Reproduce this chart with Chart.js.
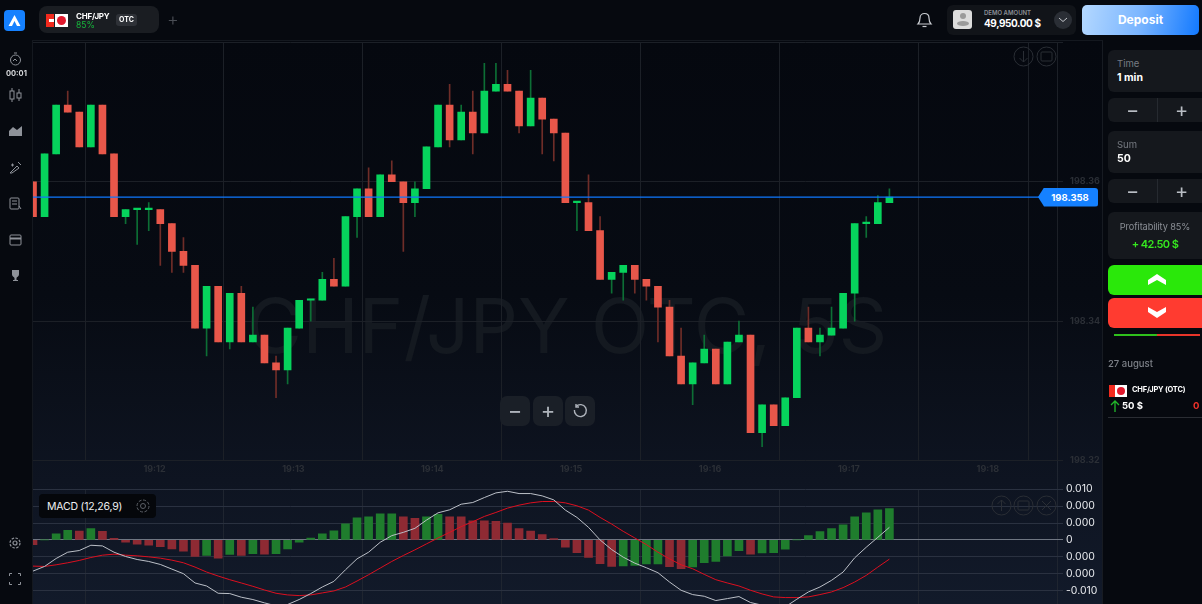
<!DOCTYPE html>
<html>
<head>
<meta charset="utf-8">
<title>CHF/JPY OTC</title>
<script src="https://cdn.jsdelivr.net/npm/chart.js@4/dist/chart.umd.min.js"></script>
<style>
html, body { margin: 0; width: 1202px; height: 604px; overflow: hidden; background: #06090f; font-family: Inter, "Noto Sans", sans-serif; color: #fff; }
.abs { position: absolute; white-space: nowrap; }
#plot { position: absolute; left: 32px; top: 40px; width: 1071px; height: 564px; background: linear-gradient(180deg, #05080f 0%, #070b13 45%, #0e1421 78%, #121a2a 100%); border-left: 1px solid #14181f; border-top: 1px solid #14181f; border-right: 1px solid #171b22; box-sizing: border-box; }
#mark { position: absolute; left: 0; width: 1134px; text-align: center; top: 280px; font-size: 76px; line-height: 90px; color: #141920; }
canvas { position: absolute; }
#mainChart { left: 33px; top: 30px; }
#macdChart { left: 33px; top: 480px; }
.card { position: absolute; left: 1108px; width: 94px; background: #15181d; border-radius: 6px 0 0 6px; }
.step { position: absolute; left: 1108px; width: 94px; height: 24px; background: #15181d; border-radius: 6px 0 0 6px; }
.step i { position: absolute; top: 0; left: 49px; width: 1px; height: 24px; background: #262a30; }
.step b { position: absolute; top: 1px; line-height: 22px; font-size: 20px; font-weight: 400; color: #b9bdc4; }
.zbtn { position: absolute; top: 396px; width: 30px; height: 30px; background: #1a1f27; border-radius: 7px; text-align: center; line-height: 28px; font-size: 22px; color: #aeb3bb; }
.rnd { position: absolute; width: 21px; height: 21px; }
#tag { position: absolute; left: 1038px; width: 60px; height: 19px; background: #1581ff; color: #fff; font-size: 9.5px; font-weight: 700; line-height: 19px; text-align: center; padding-left: 4px; box-sizing: border-box; clip-path: polygon(6px 0, 100% 0, 100% 100%, 6px 100%, 0 50%); border-radius: 3px; }
</style>
</head>
<body>
<div id="plot"></div>
<div id="mark" class="abs">CHF/JPY OTC, 5S</div>
<canvas id="mainChart" width="1069" height="450"></canvas>
<canvas id="macdChart" width="1069" height="134"></canvas>
<div id="tag"></div>

<!-- top bar -->
<svg class="abs" style="left:4px;top:10px" width="21" height="21"><rect width="21" height="21" rx="4" fill="#1581ff"/><path d="M10.5 5 L16.5 16 H13 L10.5 11 L8 16 H4.5 Z" fill="#fff"/></svg>
<div class="abs" style="left:39px;top:6px;width:120px;height:27px;background:#1a1d22;border-radius:8px"></div>
<div class="abs" style="left:46px;top:14px;width:8px;height:13px;background:#f22a1e"></div>
<div class="abs" style="left:49px;top:19px;width:5px;height:3px;background:#fff"></div>
<div class="abs" style="left:55px;top:14px;width:13px;height:13px;background:#fff"></div>
<div class="abs" style="left:57px;top:16px;width:9px;height:9px;background:#e0192d;border-radius:50%"></div>
<div class="abs" style="left:76px;top:11px;font-size:8px;font-weight:700;letter-spacing:-.2px">CHF/JPY</div>
<div class="abs" style="left:76px;top:20px;font-size:8.5px;color:#17b53c">85%</div>
<div class="abs" style="left:116px;top:14px;width:21px;height:12px;background:#2e3137;border-radius:3px;text-align:center;font-size:7px;font-weight:700;line-height:12px">OTC</div>
<div class="abs" style="left:167px;top:9px;font-size:18px;color:#4a4e55;font-weight:300">+</div>
<svg class="abs" style="left:916px;top:11px" width="17" height="18" fill="none" stroke="#c9ccd1" stroke-width="1.2"><path d="M2 13 C4 11 4 9 4 7 C4 1 13 1 13 7 C13 9 13 11 15 13 Z"/><path d="M6.5 15.5 H10.5"/></svg>
<div class="abs" style="left:947px;top:5px;width:129px;height:30px;background:#111419;border-radius:6px"></div>
<div class="abs" style="left:953px;top:10px;width:19px;height:19px;background:#dcdcdc;border-radius:3px"></div>
<div class="abs" style="left:960px;top:13px;width:6px;height:6px;background:#9a9a9a;border-radius:50%"></div>
<div class="abs" style="left:957px;top:21px;width:12px;height:5px;background:#9a9a9a;border-radius:50%"></div>
<div class="abs" style="left:984px;top:9px;font-size:6px;font-weight:600;color:#8b8f96">DEMO AMOUNT</div>
<div class="abs" style="left:984px;top:17px;font-size:10px;font-weight:700;letter-spacing:-.4px">49,950.00 $</div>
<div class="abs" style="left:1054px;top:11px;width:18px;height:18px;background:#2a2e35;border-radius:50%"></div>
<svg class="abs" style="left:1058px;top:17px" width="10" height="6" fill="none" stroke="#c2c5ca"><path d="M1 1 L5 4.5 L9 1"/></svg>
<div class="abs" style="left:1082px;top:5px;width:117px;height:30px;border-radius:5px;background:linear-gradient(100deg,#b4d8ff 0%,#7ab5ff 50%,#1279ff 100%);text-align:center;line-height:30px;font-size:12px;font-weight:700">Deposit</div>

<!-- left icons -->
<svg class="abs" style="left:9px;top:52px" width="13" height="14" fill="none" stroke="#8e9299"><circle cx="6.5" cy="8" r="5"/><path d="M5 1 H8 M4 9 L6 7 L8 9"/></svg>
<div class="abs" style="left:6px;top:69px;font-size:7.5px;font-weight:700;color:#d8dadd">00:01</div>
<svg class="abs" style="left:9px;top:88px" width="13" height="14" fill="none" stroke="#8e9299"><rect x="1" y="3" width="4" height="8"/><rect x="8" y="5" width="4" height="5"/><path d="M3 0 V3 M3 11 V14 M10 1 V5 M10 10 V13"/></svg>
<svg class="abs" style="left:9px;top:125px" width="14" height="12" fill="#8e9299"><path d="M0 11 V6 L4 2 L8 5 L13 1 V11 Z"/></svg>
<svg class="abs" style="left:9px;top:161px" width="13" height="13" fill="none" stroke="#8e9299"><path d="M1 12 L8 5 L10 7 L3 12 Z M9 1 L12 4 M2 4 H5 M3.5 2.5 V5.5"/></svg>
<svg class="abs" style="left:9px;top:197px" width="13" height="13" fill="none" stroke="#8e9299"><rect x="1" y="1" width="9" height="11" rx="1"/><path d="M3 4 H8 M3 7 H8 M10 9 L12 12"/></svg>
<svg class="abs" style="left:9px;top:233px" width="13" height="13" fill="none" stroke="#8e9299"><rect x="1" y="2" width="11" height="10" rx="1"/><path d="M1 5.5 H12" stroke-width="2"/></svg>
<svg class="abs" style="left:9px;top:269px" width="13" height="13" fill="#8e9299"><path d="M3 1 H10 V5 C10 8 7.5 8 7.5 9 V11 H9 V12 H4 V11 H5.5 V9 C5.5 8 3 8 3 5 Z"/></svg>
<svg class="abs" style="left:8px;top:536px" width="14" height="14" fill="none" stroke="#8e9299" stroke-width="1.2"><circle cx="7" cy="7" r="2"/><circle cx="7" cy="7" r="5" stroke-dasharray="2.5 1.4"/></svg>
<svg class="abs" style="left:9px;top:573px" width="12" height="12" fill="none" stroke="#8e9299"><path d="M0.5 3 V0.5 H3 M9 0.5 H11.5 V3 M11.5 9 V11.5 H9 M3 11.5 H0.5 V9"/></svg>

<!-- chart buttons -->
<div class="zbtn" style="left:500px">−</div>
<div class="zbtn" style="left:533px">+</div>
<div class="zbtn" style="left:565px"></div>
<svg class="abs" style="left:572px;top:403px" width="16" height="16" fill="none" stroke="#aeb3bb" stroke-width="1.4"><path d="M4 3.5 A6 6 0 1 1 2.4 7"/><path d="M4 1 V4 H7"/></svg>
<svg class="rnd" style="left:1013px;top:46px" fill="none" stroke="#2a2e35"><circle cx="10.5" cy="10.5" r="9.5"/><path d="M10.5 5 V16 M6.5 12 L10.5 16 L14.5 12"/></svg>
<svg class="rnd" style="left:1036px;top:46px" fill="none" stroke="#2a2e35"><circle cx="10.5" cy="10.5" r="9.5"/><rect x="5" y="6" width="11" height="9" rx="1"/></svg>
<svg class="rnd" style="left:991px;top:495px" fill="none" stroke="#2a2e35"><circle cx="10.5" cy="10.5" r="9.5"/><path d="M10.5 16 V5 M6.5 9 L10.5 5 L14.5 9"/></svg>
<svg class="rnd" style="left:1013px;top:495px" fill="none" stroke="#2a2e35"><circle cx="10.5" cy="10.5" r="9.5"/><rect x="5" y="6" width="11" height="9" rx="1"/></svg>
<svg class="rnd" style="left:1036px;top:495px" fill="none" stroke="#2a2e35"><circle cx="10.5" cy="10.5" r="9.5"/><path d="M6 6 L15 15 M15 6 L6 15"/></svg>
<div class="abs" style="left:1057px;top:461px;width:1px;height:28px;background:#1f2530"></div>
<div class="abs" style="left:39px;top:494px;width:117px;height:24px;background:#05070b;border-radius:4px"></div>
<div class="abs" style="left:47px;top:500px;font-size:10.5px;color:#f0f1f3;letter-spacing:-.2px">MACD (12,26,9)</div>
<svg class="abs" style="left:135px;top:498px" width="16" height="16" fill="none" stroke="#5c6067"><circle cx="8" cy="8" r="2.5"/><circle cx="8" cy="8" r="6" stroke-dasharray="3 1.6"/></svg>

<!-- right panel -->
<div class="card" style="top:50px;height:42px"></div>
<div class="abs" style="left:1117px;top:58px;font-size:9.5px;color:#777b82">Time</div>
<div class="abs" style="left:1117px;top:71px;font-size:10.5px;font-weight:700">1 min</div>
<div class="step" style="top:98px"><i></i><b style="left:18px">−</b><b style="left:67px">+</b></div>
<div class="card" style="top:131px;height:42px"></div>
<div class="abs" style="left:1117px;top:139px;font-size:9.5px;color:#777b82">Sum</div>
<div class="abs" style="left:1117px;top:152px;font-size:10.5px;font-weight:700">50</div>
<div class="step" style="top:179px"><i></i><b style="left:18px">−</b><b style="left:67px">+</b></div>
<div class="card" style="top:212px;height:47px"></div>
<div class="abs" style="left:1108px;width:94px;text-align:center;top:221px;font-size:9.2px;letter-spacing:-.1px;color:#8b8f96">Profitability 85%</div>
<div class="abs" style="left:1108px;width:94px;text-align:center;top:237px;font-size:11px;font-weight:600;letter-spacing:-.6px;color:#36e81f">+ 42.50 $</div>
<div class="card" style="top:265px;height:30px;background:#2ae80a"></div>
<svg class="abs" style="left:1147px;top:274px" width="20" height="12" fill="#fff"><path d="M10 0 L19 6 V11 L10 6 L1 11 V6 Z"/></svg>
<div class="card" style="top:298px;height:30px;background:#ff3b30"></div>
<svg class="abs" style="left:1147px;top:307px" width="20" height="12" fill="#fff"><path d="M10 11 L19 5 V0 L10 5 L1 0 V5 Z"/></svg>
<div class="abs" style="left:1114px;top:334px;width:43px;height:1.5px;background:#2fc01c"></div>
<div class="abs" style="left:1157px;top:334px;width:43px;height:1.5px;background:#e8352a"></div>
<div class="abs" style="left:1108px;top:358px;font-size:9.5px;font-weight:500;color:#7d8188">27 august</div>
<div class="abs" style="left:1109px;top:385px;width:6px;height:12px;background:#f22a1e"></div>
<div class="abs" style="left:1115px;top:385px;width:12px;height:12px;background:#fff"></div>
<div class="abs" style="left:1117px;top:387px;width:8px;height:8px;background:#e0192d;border-radius:50%"></div>
<div class="abs" style="left:1132px;top:385px;font-size:7.5px;font-weight:700;letter-spacing:-.2px">CHF/JPY (OTC)</div>
<svg class="abs" style="left:1110px;top:400px" width="10" height="12" fill="none" stroke="#21b82a" stroke-width="1.3"><path d="M5 12 V1 M1 5 L5 1 L9 5"/></svg>
<div class="abs" style="left:1122px;top:400px;font-size:9.5px;font-weight:700">50 $</div>
<div class="abs" style="left:1193px;top:400px;font-size:9.5px;font-weight:700;color:#f1322a">0 $</div>
<div class="abs" style="left:1108px;top:417px;width:94px;height:1px;background:#2a2d33"></div>

<script>
const opens = [198.360,198.355,198.364,198.371,198.370,198.365,198.371,198.364,198.355,198.356,198.356,198.356,198.354,198.350,198.348,198.339,198.345,198.337,198.344,198.337,198.338,198.334,198.333,198.339,198.343,198.343,198.346,198.345,198.355,198.359,198.355,198.361,198.360,198.357,198.359,198.365,198.371,198.366,198.370,198.367,198.373,198.374,198.373,198.368,198.372,198.369,198.367,198.357,198.357,198.353,198.346,198.347,198.348,198.346,198.345,198.342,198.335,198.331,198.334,198.336,198.331,198.337,198.338,198.324,198.328,198.325,198.329,198.339,198.337,198.338,198.339,198.344,198.354,198.354,198.357];
const closes = [198.355,198.364,198.371,198.370,198.365,198.371,198.364,198.355,198.356,198.356,198.356,198.354,198.350,198.348,198.339,198.345,198.337,198.344,198.337,198.338,198.334,198.333,198.339,198.343,198.343,198.346,198.345,198.355,198.359,198.355,198.361,198.360,198.357,198.359,198.365,198.371,198.366,198.370,198.367,198.373,198.374,198.373,198.368,198.372,198.369,198.367,198.357,198.357,198.353,198.346,198.347,198.348,198.346,198.345,198.342,198.335,198.331,198.334,198.336,198.331,198.337,198.338,198.324,198.328,198.325,198.329,198.339,198.337,198.338,198.339,198.344,198.354,198.354,198.357,198.3578];
const highs = [198.360,198.364,198.371,198.373,198.370,198.371,198.371,198.364,198.356,198.356,198.357,198.356,198.354,198.352,198.348,198.345,198.345,198.344,198.345,198.342,198.338,198.335,198.339,198.343,198.343,198.347,198.349,198.355,198.359,198.362,198.361,198.363,198.360,198.360,198.365,198.371,198.374,198.371,198.373,198.377,198.377,198.376,198.373,198.376,198.372,198.369,198.367,198.357,198.361,198.355,198.347,198.348,198.348,198.346,198.345,198.343,198.339,198.334,198.338,198.336,198.337,198.340,198.338,198.328,198.328,198.329,198.339,198.342,198.339,198.342,198.344,198.354,198.355,198.358,198.359];
const lows = [198.355,198.355,198.364,198.370,198.365,198.365,198.364,198.355,198.354,198.351,198.353,198.348,198.347,198.347,198.339,198.335,198.337,198.336,198.337,198.337,198.334,198.329,198.331,198.339,198.340,198.343,198.345,198.345,198.352,198.355,198.355,198.360,198.350,198.355,198.359,198.365,198.365,198.366,198.364,198.367,198.373,198.373,198.367,198.368,198.364,198.363,198.357,198.353,198.353,198.346,198.344,198.343,198.344,198.343,198.337,198.335,198.331,198.328,198.334,198.331,198.331,198.337,198.324,198.322,198.325,198.325,198.329,198.337,198.335,198.338,198.339,198.340,198.352,198.354,198.357];
const currentPrice = 198.3578;
const priceTicks = [198.32, 198.34, 198.36, 198.38];
const priceTickLabels = ['198.32', '198.34', '198.36', ''];

// minute lines and the expiry line, then the minute labels between them
const gridCandles = [4.5, 16.5, 28.5, 40.5, 52.5, 64.5, 76.5, 86, 88.5];
const timeCandles = [10.5, 22.5, 34.5, 46.5, 58.5, 70.5, 82.5];
const timeLabels = ['19:12', '19:13', '19:14', '19:15', '19:16', '19:17', '19:18'];

const macdHist = [-0.00092,0,0.00123,0.00190,0.00176,0.00222,0.00171,0.00033,-0.00045,-0.00084,-0.00104,-0.00131,-0.00176,-0.00222,-0.00327,-0.00308,-0.00359,-0.00288,-0.00308,-0.00269,-0.00280,-0.00269,-0.00176,-0.00045,0.00039,0.00123,0.00182,0.00320,0.00437,0.00457,0.00515,0.00515,0.00457,0.00425,0.00457,0.00504,0.00457,0.00457,0.00378,0.00378,0.00367,0.00333,0.00222,0.00176,0.00104,0.00025,-0.00143,-0.00249,-0.00347,-0.00470,-0.00523,-0.00515,-0.00504,-0.00476,-0.00476,-0.00529,-0.00568,-0.00535,-0.00451,-0.00425,-0.00314,-0.00210,-0.00280,-0.00255,-0.00249,-0.00182,0,0.00084,0.00163,0.00222,0.00300,0.00457,0.00535,0.00594,0.00621];
const histRising = [0,1,1,1,0,1,0,0,0,0,0,0,0,0,0,1,0,1,0,1,0,1,1,1,1,1,1,1,1,1,1,1,0,0,1,1,0,0,0,0,0,0,0,0,0,0,0,0,0,0,0,1,1,1,1,0,0,1,1,1,1,1,0,1,1,1,1,1,1,1,1,1,1,1,1];
const macdLine = [-0.00615,-0.00523,-0.00366,-0.00242,-0.00209,-0.00105,-0.00118,-0.00242,-0.00327,-0.00386,-0.00425,-0.00484,-0.00576,-0.00667,-0.00850,-0.00909,-0.01053,-0.01059,-0.01131,-0.01177,-0.01243,-0.01301,-0.01275,-0.01177,-0.01059,-0.00929,-0.00818,-0.00589,-0.00373,-0.00242,-0.00046,0.00085,0.00150,0.00229,0.00392,0.00536,0.00595,0.00706,0.00739,0.00837,0.00929,0.00961,0.00916,0.00916,0.00870,0.00791,0.00589,0.00445,0.00249,0,-0.00190,-0.00340,-0.00458,-0.00549,-0.00647,-0.00831,-0.00994,-0.01079,-0.01112,-0.01197,-0.01158,-0.01118,-0.01236,-0.01288,-0.01354,-0.01321,-0.01171,-0.01027,-0.00929,-0.00798,-0.00634,-0.00353,-0.00144,0.00052,0.00249];
const signalLine = [-0.00517,-0.00523,-0.00491,-0.00451,-0.00405,-0.00347,-0.00301,-0.00281,-0.00301,-0.00314,-0.00334,-0.00360,-0.00399,-0.00451,-0.00536,-0.00634,-0.00713,-0.00785,-0.00850,-0.00916,-0.00988,-0.01053,-0.01086,-0.01099,-0.01086,-0.01046,-0.01007,-0.00929,-0.00811,-0.00687,-0.00556,-0.00425,-0.00307,-0.00196,-0.00078,0.00039,0.00150,0.00262,0.00360,0.00464,0.00543,0.00628,0.00687,0.00732,0.00759,0.00759,0.00732,0.00674,0.00589,0.00445,0.00314,0.00170,0.00039,-0.00092,-0.00242,-0.00373,-0.00491,-0.00569,-0.00680,-0.00785,-0.00850,-0.00909,-0.00994,-0.01066,-0.01125,-0.01138,-0.01138,-0.01125,-0.01079,-0.01027,-0.00942,-0.00831,-0.00700,-0.00536,-0.00379];
const macdTicks = [-0.01, -0.00667, -0.00333, 0, 0.00333, 0.00667, 0.01];
const macdTickLabels = ['-0.010', '0.000', '0.000', '0', '0.000', '0.000', '0.010'];

const X_MAX = 89;
const GREEN = '#06d35c', RED = '#e8574a';
const GREEN_WICK = '#0d6e35', RED_WICK = '#6f2d28';

function isUp(i) { return closes[i] >= opens[i]; }

const mainChart = new Chart(document.getElementById('mainChart'), {
    type: 'bar',
    data: {
        datasets: [
            {
                type: 'line',
                order: 0,
                data: [{ x: 0, y: currentPrice }, { x: X_MAX, y: currentPrice }],
                borderColor: '#0f78ff',
                borderWidth: 1.2,
                pointRadius: 0
            },
            {
                order: 1,
                grouped: false,
                data: opens.map((o, i) => ({ x: i, y: [o, closes[i]] })),
                backgroundColor: opens.map((o, i) => isUp(i) ? GREEN : RED),
                barThickness: 7,
                minBarLength: 1.5
            },
            {
                order: 2,
                grouped: false,
                data: lows.map((l, i) => ({ x: i, y: [l, highs[i]] })),
                backgroundColor: lows.map((l, i) => isUp(i) ? GREEN_WICK : RED_WICK),
                barThickness: 1
            }
        ]
    },
    options: {
        responsive: false,
        animation: false,
        layout: { padding: { top: 10 } },
        plugins: { legend: { display: false }, tooltip: { enabled: false } },
        scales: {
            x: {
                type: 'linear',
                min: 0,
                max: X_MAX,
                offset: false,
                border: { display: false },
                afterBuildTicks: s => {
                    s.ticks = gridCandles.concat(timeCandles).sort((a, b) => a - b).map(v => ({ value: v }));
                },
                afterFit: s => { s.height = 19.5; },
                grid: {
                    offset: false,
                    drawTicks: false,
                    color: c => gridCandles.includes(c.tick.value) ? '#1c2027' : 'transparent'
                },
                ticks: {
                    autoSkip: false,
                    maxRotation: 0,
                    padding: 3,
                    color: '#2b2f36',
                    font: { family: 'Inter', size: 9, weight: '700' },
                    callback: v => timeLabels[timeCandles.indexOf(v)] || ''
                }
            },
            y: {
                position: 'right',
                min: 198.32,
                max: 198.38,
                border: { display: false },
                afterBuildTicks: s => { s.ticks = priceTicks.map(v => ({ value: v })); },
                afterFit: s => { s.width = 39; },
                grid: { drawTicks: false, color: '#1c2027' },
                ticks: {
                    padding: 7,
                    color: '#2b2f36',
                    font: { family: 'Inter', size: 9, weight: '700' },
                    callback: v => priceTickLabels[priceTicks.indexOf(v)]
                }
            }
        }
    }
});

new Chart(document.getElementById('macdChart'), {
    type: 'bar',
    data: {
        datasets: [
            {
                type: 'line',
                order: 0,
                data: macdLine.map((v, i) => ({ x: i, y: v })),
                borderColor: '#bcc0c8',
                borderWidth: 1,
                pointRadius: 0
            },
            {
                type: 'line',
                order: 0,
                data: signalLine.map((v, i) => ({ x: i, y: v })),
                borderColor: '#dc1020',
                borderWidth: 1,
                pointRadius: 0
            },
            {
                order: 1,
                data: macdHist.map((v, i) => ({ x: i, y: v })),
                backgroundColor: histRising.map(r => r ? '#1f7d2d' : '#8e2a33'),
                barThickness: 8
            }
        ]
    },
    options: {
        responsive: false,
        animation: false,
        layout: { padding: { top: 8, bottom: 10 } },
        plugins: { legend: { display: false }, tooltip: { enabled: false } },
        scales: {
            x: {
                type: 'linear',
                min: 0,
                max: X_MAX,
                offset: false,
                border: { display: false },
                afterBuildTicks: s => {
                    s.ticks = gridCandles.filter(v => v !== 86).map(v => ({ value: v }));
                },
                grid: { offset: false, drawTicks: false, color: '#1f2530' },
                ticks: { display: false }
            },
            y: {
                position: 'right',
                min: -0.01265,
                max: 0.01,
                border: { display: false },
                afterBuildTicks: s => { s.ticks = macdTicks.map(v => ({ value: v })); },
                afterFit: s => { s.width = 39; },
                grid: {
                    drawTicks: false,
                    color: c => c.tick.value === 0 ? '#6f7682' : '#2a3140'
                },
                ticks: {
                    padding: 3,
                    color: '#e6e8ec',
                    font: { family: 'Inter', size: 10.5 },
                    callback: v => macdTickLabels[macdTicks.indexOf(v)]
                }
            }
        }
    }
});

// price tag sits on the current price line
const tag = document.getElementById('tag');
tag.textContent = currentPrice.toFixed(3);
tag.style.top = (30 + mainChart.scales.y.getPixelForValue(currentPrice) - 9.5) + 'px';
</script>
</body>
</html>
